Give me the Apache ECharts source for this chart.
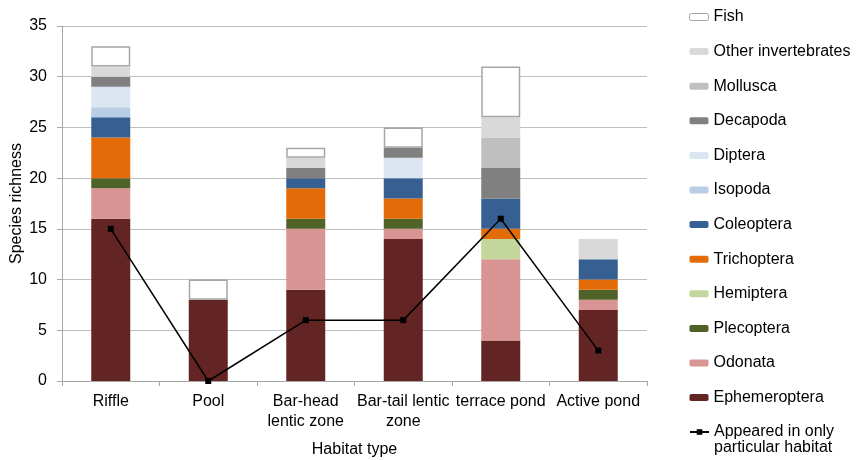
<!DOCTYPE html>
<html><head><meta charset="utf-8">
<script src="https://cdn.jsdelivr.net/npm/echarts@6/dist/echarts.min.js"></script>
<style>html,body{margin:0;padding:0;background:#fff}#c{width:856px;height:460px}</style>
</head><body><div id="c"></div>
<script>
const categories = ['Riffle', 'Pool', 'Bar-head\nlentic zone', 'Bar-tail lentic\nzone', 'terrace pond', 'Active pond'];
const ephemeroptera = [16, 8, 9, 14, 4, 7];
const odonata       = [3, 0, 6, 1, 8, 1];
const plecoptera    = [1, 0, 1, 1, 0, 1];
const hemiptera     = [0, 0, 0, 0, 2, 0];
const trichoptera   = [4, 0, 3, 2, 1, 1];
const coleoptera    = [2, 0, 1, 2, 3, 2];
const isopoda       = [1, 0, 0, 0, 0, 0];
const diptera       = [2, 0, 0, 2, 0, 0];
const decapoda      = [1, 0, 1, 1, 3, 0];
const mollusca      = [0, 0, 0, 0, 3, 0];
const otherInv      = [1, 0, 1, 0, 2, 2];
const fish          = [2, 2, 1, 2, 5, 0];
const appearedOnly  = [15, 0, 6, 6, 16, 3];
const yTicks = [0, 5, 10, 15, 20, 25, 30, 35];

const font = 'Liberation Sans, Arial, sans-serif';
const seriesDefs = [
  ['Ephemeroptera', ephemeroptera, '#632523'],
  ['Odonata', odonata, '#D99594'],
  ['Plecoptera', plecoptera, '#4F6228'],
  ['Hemiptera', hemiptera, '#C3D69B'],
  ['Trichoptera', trichoptera, '#E36C09'],
  ['Coleoptera', coleoptera, '#376092'],
  ['Isopoda', isopoda, '#B9CDE5'],
  ['Diptera', diptera, '#DCE6F2'],
  ['Decapoda', decapoda, '#808080'],
  ['Mollusca', mollusca, '#BFBFBF'],
  ['Other invertebrates', otherInv, '#D9D9D9'],
  ['Fish', fish, '#FFFFFF']
];
const lineName = 'Appeared in only\nparticular habitat';
const series = seriesDefs.map(([name, data, color]) => ({
  name, type: 'bar', stack: 'total', barWidth: '40%',
  data: data.map(v => v === 0 ? '-' : v),
  itemStyle: name === 'Fish' ? {color, borderColor: '#A6A6A6', borderWidth: 1.5} : {color},
  emphasis: {disabled: true}
}));
series.push({
  name: lineName, type: 'line', data: appearedOnly,
  symbol: 'rect', symbolSize: 6, z: 10,
  lineStyle: {color: '#000', width: 1.5},
  itemStyle: {color: '#000'}
});
const barLegendData = seriesDefs.map(d => d[0]).reverse().map(n =>
  n === 'Fish' ? {name: n, itemStyle: {borderWidth: 1, borderColor: '#A6A6A6'}} : {name: n}
);
const legendText = {fontSize: 16, color: '#000', fontFamily: font, lineHeight: 16};

const chart = echarts.init(document.getElementById('c'));
chart.setOption({
  animation: false,
  textStyle: {fontFamily: font},
  grid: {left: 62, right: 209, top: 26, bottom: 79, outerBoundsMode: 'none', containLabel: false},
  legend: [{
    orient: 'vertical', left: 689, top: 9, padding: 0,
    itemWidth: 19, itemHeight: 7, itemGap: 18.6,
    data: barLegendData,
    textStyle: legendText,
    selectedMode: false
  }, {
    orient: 'vertical', left: 689, top: 408, padding: 0,
    itemWidth: 19, itemHeight: 7,
    data: [{name: lineName}],
    formatter: n => ' \n' + n,
    textStyle: legendText,
    selectedMode: false
  }],
  xAxis: {
    type: 'category', data: categories,
    name: 'Habitat type', nameLocation: 'middle', nameGap: 61,
    nameTextStyle: {fontSize: 16, color: '#000'},
    axisLine: {lineStyle: {color: '#A6A6A6', width: 1}},
    axisTick: {show: true, length: 5, lineStyle: {color: '#A6A6A6'}},
    axisLabel: {fontSize: 16, color: '#000', margin: 11, lineHeight: 20, interval: 0}
  },
  yAxis: {
    type: 'value', min: yTicks[0], max: yTicks[yTicks.length - 1], interval: 5,
    name: 'Species richness', nameLocation: 'middle', nameGap: 37, nameMoveOverlap: false,
    nameTextStyle: {fontSize: 16, color: '#000'},
    axisLine: {show: true, lineStyle: {color: '#A6A6A6'}},
    axisTick: {show: true, length: 5, lineStyle: {color: '#A6A6A6'}},
    axisLabel: {fontSize: 16, color: '#000', margin: 15},
    splitLine: {lineStyle: {color: '#BFBFBF', width: 1}}
  },
  series
});
</script></body></html>
